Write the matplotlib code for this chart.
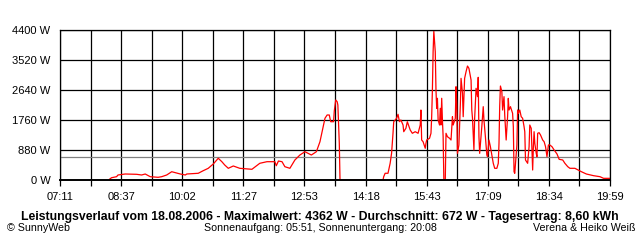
import numpy as np
import matplotlib
matplotlib.use('Agg')
import matplotlib.pyplot as plt

# Leistungsverlauf 18.08.2006
# time in minutes after midnight, power in W
minutes = [500, 503, 510, 512, 522, 538, 545, 550, 557, 568, 573, 580, 587, 592, 599,
           606, 608, 624, 631, 638, 645, 652, 657, 661, 666, 673, 682, 699, 710, 720,
           731, 733, 736, 741, 745, 752, 759, 766, 773, 782, 789, 794, 798, 801, 804,
           807, 809, 813, 814, 816, 818, 819, 821, 822, 882,
           883, 885, 889, 892, 894, 896, 897, 901, 903, 905, 907, 910, 911, 914, 916,
           920, 923, 927, 931, 934, 935, 936, 938, 941, 942, 943, 947, 949, 950, 951,
           952, 953, 955, 956, 957, 958, 959, 961, 962, 963, 964, 965, 966, 967, 969,
           970, 972, 975, 977, 979, 980, 983, 984, 985, 986, 988, 990, 991, 993, 994,
           996, 998, 1000, 1002, 1005, 1006, 1007, 1009, 1010, 1012, 1014, 1015, 1016, 1017, 1020,
           1022, 1023, 1025, 1027, 1028, 1030, 1032, 1034, 1036, 1038, 1041, 1043, 1044, 1045, 1046,
           1048, 1049, 1051, 1052, 1054, 1056, 1057, 1058, 1060, 1063, 1064, 1065, 1066, 1069, 1070,
           1071, 1073, 1075, 1077, 1079, 1080, 1081, 1084, 1086, 1087, 1089, 1091, 1092, 1093, 1094,
           1096, 1097, 1098, 1100, 1102, 1105, 1107, 1109, 1111, 1113, 1115, 1118, 1121, 1125, 1128,
           1133, 1136, 1140, 1143, 1150, 1159, 1166, 1176, 1185, 1190, 1199]
watts = [20, 67, 97, 147, 176, 167, 147, 176, 97, 79, 97, 147, 243, 214, 176,
         147, 176, 197, 273, 343, 469, 637, 537, 440, 343, 411, 343, 314, 490, 537,
         537, 419, 557, 537, 390, 343, 587, 733, 830, 733, 830, 1123, 1517, 1810, 1907,
         1907, 1710, 1710, 2024, 2347, 2297, 2200, 1077, 0, 0,
         97, 197, 197, 490, 783, 1370, 1710, 1810, 1927, 1710, 1760, 1613, 1417, 1517, 1710,
         1467, 1370, 1417, 1370, 1613, 2053, 1173, 1123, 930, 1077, 1173, 1223, 1370, 1857, 2640,
         3763, 4362, 3763, 2640, 2103, 2397, 1760, 1613, 2103, 1613, 2397, 1760, 1270, 0, 0,
         1370, 1270, 1223, 1173, 1857, 1613, 1810, 2737, 2200, 782, 1027, 2200, 2982, 2542, 1857,
         2982, 3177, 3344, 3276, 2933, 2053, 1810, 880, 1810, 2690, 2445, 3012, 1270, 782, 1565,
         2151, 1760, 1270, 733, 684, 1173, 977, 733, 490, 343, 343, 490, 1077, 2170, 2757,
         2591, 2053, 2445, 1907, 1173, 1857, 2395, 2053, 2151, 1955, 1565, 244, 196, 1027, 2053,
         1955, 2053, 1857, 1810, 1565, 1417, 587, 490, 977, 1613, 1515, 293, 977, 1417, 1075,
         782, 684, 1370, 1388, 1320, 1173, 1123, 977, 684, 1027, 1027, 977, 880, 763, 607,
         587, 490, 391, 343, 343, 244, 176, 127, 97, 49, 49]

average = 672
y_ticks = [0, 880, 1760, 2640, 3520, 4400]
x_labels = ['07:11', '08:37', '10:02', '11:27', '12:53', '14:18', '15:43', '17:09', '18:34', '19:59']
t_start = 431
t_end = 1199

title = 'Leistungsverlauf vom 18.08.2006 - Maximalwert: 4362 W - Durchschnitt: 672 W - Tagesertrag: 8,60 kWh'
sun = 'Sonnenaufgang: 05:51, Sonnenuntergang: 20:08'

plt.rcParams['font.family'] = ['Liberation Sans', 'DejaVu Sans']

fig = plt.figure(figsize=(6.4, 2.4), dpi=100)
ax = fig.add_axes([60 / 640, 60 / 240, 550 / 640, 150 / 240])

ax.plot(minutes, watts, color='red', linewidth=0.9, zorder=3)
ax.axhline(average, color='#808080', linewidth=0.9, zorder=2)

ax.set_xlim(t_start, t_end)
ax.set_ylim(0, 4400)

grid_x = np.linspace(t_start, t_end, 19)
ax.set_xticks(grid_x)
ax.set_xticklabels([x_labels[i // 2] if i % 2 == 0 else '' for i in range(19)], fontsize=8)
ax.set_yticks(y_ticks)
ax.set_yticklabels(['%d W' % v for v in y_ticks], fontsize=8)
ax.tick_params(axis='x', length=4, width=0.9, direction='out', pad=5)
ax.tick_params(axis='y', length=0, pad=7)
ax.grid(True, color='black', linewidth=0.9)
for s in ax.spines.values():
    s.set_linewidth(0.9)
    s.set_zorder(4)
ax.spines['bottom'].set_linewidth(1.4)

fig.text(0.5, 1 - 217 / 240, title, ha='center', va='center', fontsize=8.8, fontweight='bold')
fig.text(7 / 640, 1 - 228 / 240, '\u00a9 SunnyWeb', ha='left', va='center', fontsize=7.7)
fig.text(0.5, 1 - 228 / 240, sun, ha='center', va='center', fontsize=7.7)
fig.text(635 / 640, 1 - 228 / 240, 'Verena & Heiko Weiß', ha='right', va='center', fontsize=7.7)

fig.savefig('out.png', dpi=100)
